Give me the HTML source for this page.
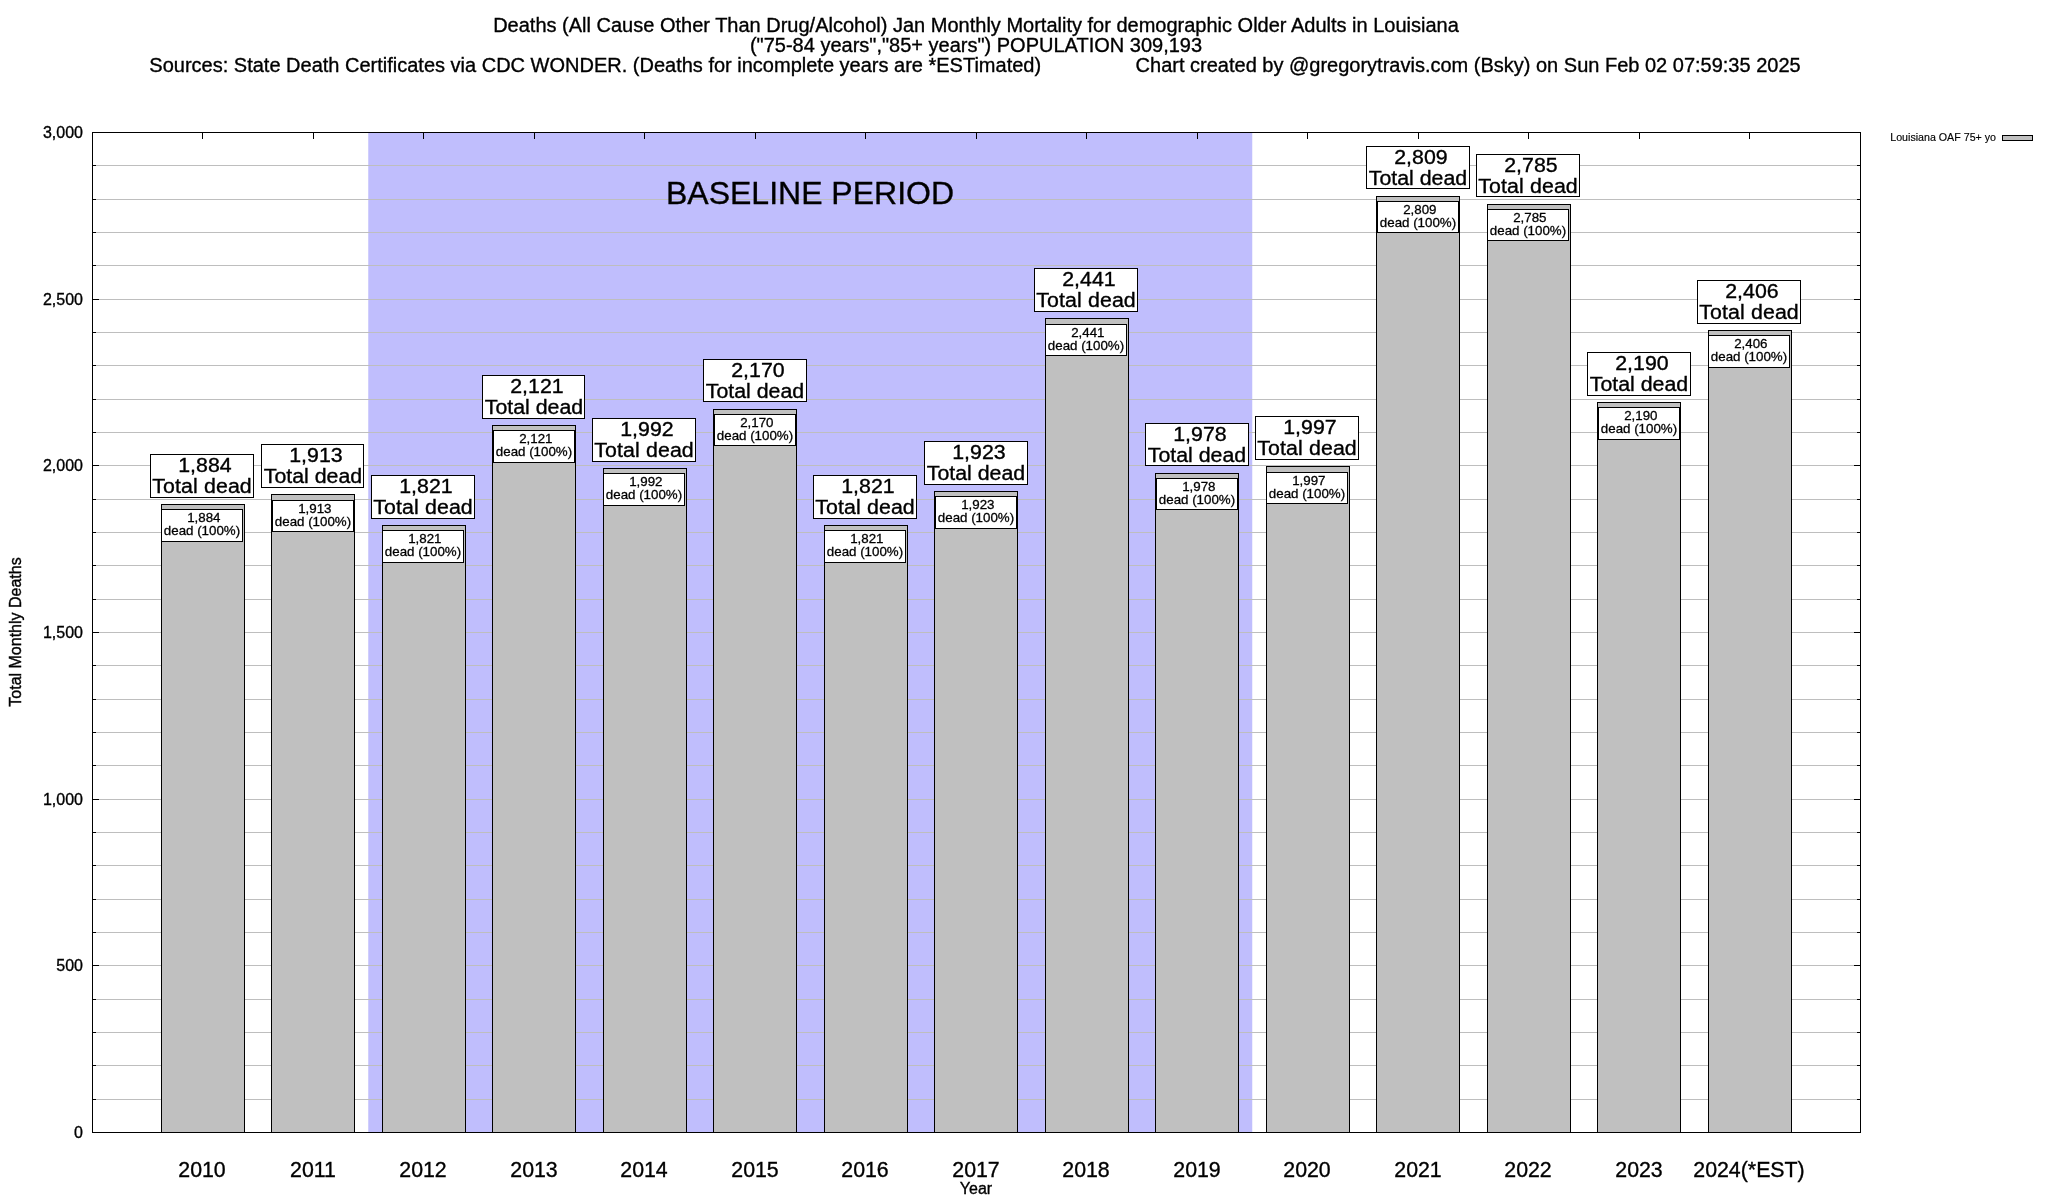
<!DOCTYPE html>
<html><head><meta charset="utf-8"><title>Louisiana Jan Monthly Mortality</title>
<style>
html,body{margin:0;padding:0;background:#fff;}
body{width:2048px;height:1200px;position:relative;overflow:hidden;font-family:"Liberation Sans",sans-serif;color:#000;}
div{position:absolute;box-sizing:border-box;white-space:pre;}
.t{line-height:1;text-align:center;will-change:transform;-webkit-text-stroke:0.35px #000;}
.g{height:1px;background:#bebebe;left:93px;width:1767px;}
.bar{background:#c0c0c0;border:1px solid #000;}
.box{background:#fff;border:1px solid #000;}
.k{background:#000;}
.f20{font-size:20px;height:20px;}
.f21{font-size:21.33px;height:22px;}
.fL{font-size:20px;height:20px;transform:scaleX(1.0667);transform-origin:50% 50%;}
.f16{font-size:16px;height:16px;}
.f13{font-size:13.33px;height:14px;-webkit-text-stroke:0.3px #000;}
.f32{font-size:32px;height:32px;}
.f10{font-size:10.67px;height:11px;-webkit-text-stroke:0.15px #000;}
</style></head><body>
<div class="t f20" style="left:-24px;top:15px;width:2000px;text-align:center;">Deaths (All Cause Other Than Drug/Alcohol) Jan Monthly Mortality for demographic Older Adults in Louisiana</div>
<div class="t f20" style="left:-24px;top:35px;width:2000px;text-align:center;">(&quot;75-84 years&quot;,&quot;85+ years&quot;) POPULATION 309,193</div>
<div class="t f20" style="left:-25px;top:55px;width:2000px;text-align:center;">Sources: State Death Certificates via CDC WONDER. (Deaths for incomplete years are *ESTimated)                 Chart created by @gregorytravis.com (Bsky) on Sun Feb 02 07:59:35 2025</div>
<div style="left:369px;top:132px;width:883px;height:1000px;background:#c0befd;"></div>
<div style="left:368px;top:132px;width:1px;height:1000px;background:#d0cefd;"></div>
<div style="left:1252px;top:132px;width:1px;height:1000px;background:#efeffe;"></div>
<div class="g" style="top:1099px;"></div>
<div class="g" style="top:1065px;"></div>
<div class="g" style="top:1032px;"></div>
<div class="g" style="top:999px;"></div>
<div class="g" style="top:965px;"></div>
<div class="g" style="top:932px;"></div>
<div class="g" style="top:899px;"></div>
<div class="g" style="top:865px;"></div>
<div class="g" style="top:832px;"></div>
<div class="g" style="top:799px;"></div>
<div class="g" style="top:765px;"></div>
<div class="g" style="top:732px;"></div>
<div class="g" style="top:699px;"></div>
<div class="g" style="top:665px;"></div>
<div class="g" style="top:632px;"></div>
<div class="g" style="top:599px;"></div>
<div class="g" style="top:565px;"></div>
<div class="g" style="top:532px;"></div>
<div class="g" style="top:499px;"></div>
<div class="g" style="top:465px;"></div>
<div class="g" style="top:432px;"></div>
<div class="g" style="top:399px;"></div>
<div class="g" style="top:365px;"></div>
<div class="g" style="top:332px;"></div>
<div class="g" style="top:299px;"></div>
<div class="g" style="top:265px;"></div>
<div class="g" style="top:232px;"></div>
<div class="g" style="top:199px;"></div>
<div class="g" style="top:165px;"></div>
<div class="bar" style="left:161px;top:504px;width:84px;height:629px;"></div>
<div class="bar" style="left:271px;top:494px;width:84px;height:639px;"></div>
<div class="bar" style="left:382px;top:525px;width:84px;height:608px;"></div>
<div class="bar" style="left:492px;top:425px;width:84px;height:708px;"></div>
<div class="bar" style="left:603px;top:468px;width:84px;height:665px;"></div>
<div class="bar" style="left:713px;top:409px;width:84px;height:724px;"></div>
<div class="bar" style="left:824px;top:525px;width:84px;height:608px;"></div>
<div class="bar" style="left:934px;top:491px;width:84px;height:642px;"></div>
<div class="bar" style="left:1045px;top:318px;width:84px;height:815px;"></div>
<div class="bar" style="left:1155px;top:473px;width:84px;height:660px;"></div>
<div class="bar" style="left:1266px;top:466px;width:84px;height:667px;"></div>
<div class="bar" style="left:1376px;top:196px;width:84px;height:937px;"></div>
<div class="bar" style="left:1487px;top:204px;width:84px;height:929px;"></div>
<div class="bar" style="left:1597px;top:402px;width:84px;height:731px;"></div>
<div class="bar" style="left:1708px;top:330px;width:84px;height:803px;"></div>
<div class="box" style="left:150px;top:454px;width:104px;height:44px;"></div>
<div class="t fL" style="left:122px;top:455px;width:160px;text-align:center;"> 1,884</div>
<div class="t fL" style="left:122px;top:476px;width:160px;text-align:center;letter-spacing:0.12px;">Total dead</div>
<div class="box" style="left:161px;top:509px;width:82px;height:33px;"></div>
<div class="t f13" style="left:142px;top:511px;width:120px;text-align:center;"> 1,884</div>
<div class="t f13" style="left:142px;top:524px;width:120px;text-align:center;">dead (100%)</div>
<div class="box" style="left:261px;top:444px;width:103px;height:44px;"></div>
<div class="t fL" style="left:233px;top:445px;width:160px;text-align:center;"> 1,913</div>
<div class="t fL" style="left:233px;top:466px;width:160px;text-align:center;">Total dead</div>
<div class="box" style="left:272px;top:500px;width:82px;height:32px;"></div>
<div class="t f13" style="left:253px;top:502px;width:120px;text-align:center;"> 1,913</div>
<div class="t f13" style="left:253px;top:515px;width:120px;text-align:center;">dead (100%)</div>
<div class="box" style="left:371px;top:475px;width:104px;height:44px;"></div>
<div class="t fL" style="left:343px;top:476px;width:160px;text-align:center;"> 1,821</div>
<div class="t fL" style="left:343px;top:497px;width:160px;text-align:center;letter-spacing:0.12px;">Total dead</div>
<div class="box" style="left:382px;top:530px;width:82px;height:33px;"></div>
<div class="t f13" style="left:363px;top:532px;width:120px;text-align:center;"> 1,821</div>
<div class="t f13" style="left:363px;top:545px;width:120px;text-align:center;">dead (100%)</div>
<div class="box" style="left:482px;top:375px;width:103px;height:44px;"></div>
<div class="t fL" style="left:454px;top:376px;width:160px;text-align:center;"> 2,121</div>
<div class="t fL" style="left:454px;top:397px;width:160px;text-align:center;">Total dead</div>
<div class="box" style="left:493px;top:430px;width:82px;height:33px;"></div>
<div class="t f13" style="left:474px;top:432px;width:120px;text-align:center;"> 2,121</div>
<div class="t f13" style="left:474px;top:445px;width:120px;text-align:center;">dead (100%)</div>
<div class="box" style="left:592px;top:418px;width:104px;height:44px;"></div>
<div class="t fL" style="left:564px;top:419px;width:160px;text-align:center;"> 1,992</div>
<div class="t fL" style="left:564px;top:440px;width:160px;text-align:center;letter-spacing:0.12px;">Total dead</div>
<div class="box" style="left:603px;top:473px;width:82px;height:33px;"></div>
<div class="t f13" style="left:584px;top:475px;width:120px;text-align:center;"> 1,992</div>
<div class="t f13" style="left:584px;top:488px;width:120px;text-align:center;">dead (100%)</div>
<div class="box" style="left:703px;top:359px;width:104px;height:43px;"></div>
<div class="t fL" style="left:675px;top:360px;width:160px;text-align:center;"> 2,170</div>
<div class="t fL" style="left:675px;top:381px;width:160px;text-align:center;">Total dead</div>
<div class="box" style="left:714px;top:414px;width:82px;height:32px;"></div>
<div class="t f13" style="left:695px;top:416px;width:120px;text-align:center;"> 2,170</div>
<div class="t f13" style="left:695px;top:429px;width:120px;text-align:center;">dead (100%)</div>
<div class="box" style="left:813px;top:475px;width:104px;height:44px;"></div>
<div class="t fL" style="left:785px;top:476px;width:160px;text-align:center;"> 1,821</div>
<div class="t fL" style="left:785px;top:497px;width:160px;text-align:center;letter-spacing:0.12px;">Total dead</div>
<div class="box" style="left:824px;top:530px;width:82px;height:33px;"></div>
<div class="t f13" style="left:805px;top:532px;width:120px;text-align:center;"> 1,821</div>
<div class="t f13" style="left:805px;top:545px;width:120px;text-align:center;">dead (100%)</div>
<div class="box" style="left:924px;top:441px;width:104px;height:44px;"></div>
<div class="t fL" style="left:896px;top:442px;width:160px;text-align:center;"> 1,923</div>
<div class="t fL" style="left:896px;top:463px;width:160px;text-align:center;">Total dead</div>
<div class="box" style="left:935px;top:496px;width:82px;height:33px;"></div>
<div class="t f13" style="left:916px;top:498px;width:120px;text-align:center;"> 1,923</div>
<div class="t f13" style="left:916px;top:511px;width:120px;text-align:center;">dead (100%)</div>
<div class="box" style="left:1034px;top:268px;width:104px;height:44px;"></div>
<div class="t fL" style="left:1006px;top:269px;width:160px;text-align:center;"> 2,441</div>
<div class="t fL" style="left:1006px;top:290px;width:160px;text-align:center;letter-spacing:0.12px;">Total dead</div>
<div class="box" style="left:1045px;top:324px;width:82px;height:32px;"></div>
<div class="t f13" style="left:1026px;top:326px;width:120px;text-align:center;"> 2,441</div>
<div class="t f13" style="left:1026px;top:339px;width:120px;text-align:center;">dead (100%)</div>
<div class="box" style="left:1145px;top:423px;width:104px;height:43px;"></div>
<div class="t fL" style="left:1117px;top:424px;width:160px;text-align:center;"> 1,978</div>
<div class="t fL" style="left:1117px;top:445px;width:160px;text-align:center;">Total dead</div>
<div class="box" style="left:1156px;top:478px;width:82px;height:32px;"></div>
<div class="t f13" style="left:1137px;top:480px;width:120px;text-align:center;"> 1,978</div>
<div class="t f13" style="left:1137px;top:493px;width:120px;text-align:center;">dead (100%)</div>
<div class="box" style="left:1255px;top:416px;width:104px;height:44px;"></div>
<div class="t fL" style="left:1227px;top:417px;width:160px;text-align:center;"> 1,997</div>
<div class="t fL" style="left:1227px;top:438px;width:160px;text-align:center;letter-spacing:0.12px;">Total dead</div>
<div class="box" style="left:1266px;top:472px;width:82px;height:32px;"></div>
<div class="t f13" style="left:1247px;top:474px;width:120px;text-align:center;"> 1,997</div>
<div class="t f13" style="left:1247px;top:487px;width:120px;text-align:center;">dead (100%)</div>
<div class="box" style="left:1366px;top:146px;width:104px;height:43px;"></div>
<div class="t fL" style="left:1338px;top:147px;width:160px;text-align:center;"> 2,809</div>
<div class="t fL" style="left:1338px;top:168px;width:160px;text-align:center;">Total dead</div>
<div class="box" style="left:1377px;top:201px;width:82px;height:32px;"></div>
<div class="t f13" style="left:1358px;top:203px;width:120px;text-align:center;"> 2,809</div>
<div class="t f13" style="left:1358px;top:216px;width:120px;text-align:center;">dead (100%)</div>
<div class="box" style="left:1476px;top:154px;width:104px;height:43px;"></div>
<div class="t fL" style="left:1448px;top:155px;width:160px;text-align:center;"> 2,785</div>
<div class="t fL" style="left:1448px;top:176px;width:160px;text-align:center;letter-spacing:0.12px;">Total dead</div>
<div class="box" style="left:1487px;top:209px;width:82px;height:32px;"></div>
<div class="t f13" style="left:1468px;top:211px;width:120px;text-align:center;"> 2,785</div>
<div class="t f13" style="left:1468px;top:224px;width:120px;text-align:center;">dead (100%)</div>
<div class="box" style="left:1587px;top:352px;width:104px;height:44px;"></div>
<div class="t fL" style="left:1559px;top:353px;width:160px;text-align:center;"> 2,190</div>
<div class="t fL" style="left:1559px;top:374px;width:160px;text-align:center;">Total dead</div>
<div class="box" style="left:1598px;top:407px;width:82px;height:33px;"></div>
<div class="t f13" style="left:1579px;top:409px;width:120px;text-align:center;"> 2,190</div>
<div class="t f13" style="left:1579px;top:422px;width:120px;text-align:center;">dead (100%)</div>
<div class="box" style="left:1697px;top:280px;width:104px;height:44px;"></div>
<div class="t fL" style="left:1669px;top:281px;width:160px;text-align:center;"> 2,406</div>
<div class="t fL" style="left:1669px;top:302px;width:160px;text-align:center;letter-spacing:0.12px;">Total dead</div>
<div class="box" style="left:1708px;top:335px;width:82px;height:33px;"></div>
<div class="t f13" style="left:1689px;top:337px;width:120px;text-align:center;"> 2,406</div>
<div class="t f13" style="left:1689px;top:350px;width:120px;text-align:center;">dead (100%)</div>
<div class="t f32" style="left:510px;top:177px;width:600px;text-align:center;">BASELINE PERIOD</div>
<div style="left:92px;top:132px;width:1769px;height:1001px;border:1px solid #000;"></div>
<div class="t f16" style="left:3px;top:1125px;width:80px;text-align:right;">0</div>
<div class="k" style="left:93px;top:1099px;width:3px;height:1px;"></div>
<div class="k" style="left:1857px;top:1099px;width:3px;height:1px;"></div>
<div class="k" style="left:93px;top:1065px;width:3px;height:1px;"></div>
<div class="k" style="left:1857px;top:1065px;width:3px;height:1px;"></div>
<div class="k" style="left:93px;top:1032px;width:3px;height:1px;"></div>
<div class="k" style="left:1857px;top:1032px;width:3px;height:1px;"></div>
<div class="k" style="left:93px;top:999px;width:3px;height:1px;"></div>
<div class="k" style="left:1857px;top:999px;width:3px;height:1px;"></div>
<div class="k" style="left:93px;top:965px;width:6px;height:1px;"></div>
<div class="k" style="left:1854px;top:965px;width:6px;height:1px;"></div>
<div class="t f16" style="left:3px;top:958px;width:80px;text-align:right;">500</div>
<div class="k" style="left:93px;top:932px;width:3px;height:1px;"></div>
<div class="k" style="left:1857px;top:932px;width:3px;height:1px;"></div>
<div class="k" style="left:93px;top:899px;width:3px;height:1px;"></div>
<div class="k" style="left:1857px;top:899px;width:3px;height:1px;"></div>
<div class="k" style="left:93px;top:865px;width:3px;height:1px;"></div>
<div class="k" style="left:1857px;top:865px;width:3px;height:1px;"></div>
<div class="k" style="left:93px;top:832px;width:3px;height:1px;"></div>
<div class="k" style="left:1857px;top:832px;width:3px;height:1px;"></div>
<div class="k" style="left:93px;top:799px;width:6px;height:1px;"></div>
<div class="k" style="left:1854px;top:799px;width:6px;height:1px;"></div>
<div class="t f16" style="left:3px;top:792px;width:80px;text-align:right;">1,000</div>
<div class="k" style="left:93px;top:765px;width:3px;height:1px;"></div>
<div class="k" style="left:1857px;top:765px;width:3px;height:1px;"></div>
<div class="k" style="left:93px;top:732px;width:3px;height:1px;"></div>
<div class="k" style="left:1857px;top:732px;width:3px;height:1px;"></div>
<div class="k" style="left:93px;top:699px;width:3px;height:1px;"></div>
<div class="k" style="left:1857px;top:699px;width:3px;height:1px;"></div>
<div class="k" style="left:93px;top:665px;width:3px;height:1px;"></div>
<div class="k" style="left:1857px;top:665px;width:3px;height:1px;"></div>
<div class="k" style="left:93px;top:632px;width:6px;height:1px;"></div>
<div class="k" style="left:1854px;top:632px;width:6px;height:1px;"></div>
<div class="t f16" style="left:3px;top:625px;width:80px;text-align:right;">1,500</div>
<div class="k" style="left:93px;top:599px;width:3px;height:1px;"></div>
<div class="k" style="left:1857px;top:599px;width:3px;height:1px;"></div>
<div class="k" style="left:93px;top:565px;width:3px;height:1px;"></div>
<div class="k" style="left:1857px;top:565px;width:3px;height:1px;"></div>
<div class="k" style="left:93px;top:532px;width:3px;height:1px;"></div>
<div class="k" style="left:1857px;top:532px;width:3px;height:1px;"></div>
<div class="k" style="left:93px;top:499px;width:3px;height:1px;"></div>
<div class="k" style="left:1857px;top:499px;width:3px;height:1px;"></div>
<div class="k" style="left:93px;top:465px;width:6px;height:1px;"></div>
<div class="k" style="left:1854px;top:465px;width:6px;height:1px;"></div>
<div class="t f16" style="left:3px;top:458px;width:80px;text-align:right;">2,000</div>
<div class="k" style="left:93px;top:432px;width:3px;height:1px;"></div>
<div class="k" style="left:1857px;top:432px;width:3px;height:1px;"></div>
<div class="k" style="left:93px;top:399px;width:3px;height:1px;"></div>
<div class="k" style="left:1857px;top:399px;width:3px;height:1px;"></div>
<div class="k" style="left:93px;top:365px;width:3px;height:1px;"></div>
<div class="k" style="left:1857px;top:365px;width:3px;height:1px;"></div>
<div class="k" style="left:93px;top:332px;width:3px;height:1px;"></div>
<div class="k" style="left:1857px;top:332px;width:3px;height:1px;"></div>
<div class="k" style="left:93px;top:299px;width:6px;height:1px;"></div>
<div class="k" style="left:1854px;top:299px;width:6px;height:1px;"></div>
<div class="t f16" style="left:3px;top:292px;width:80px;text-align:right;">2,500</div>
<div class="k" style="left:93px;top:265px;width:3px;height:1px;"></div>
<div class="k" style="left:1857px;top:265px;width:3px;height:1px;"></div>
<div class="k" style="left:93px;top:232px;width:3px;height:1px;"></div>
<div class="k" style="left:1857px;top:232px;width:3px;height:1px;"></div>
<div class="k" style="left:93px;top:199px;width:3px;height:1px;"></div>
<div class="k" style="left:1857px;top:199px;width:3px;height:1px;"></div>
<div class="k" style="left:93px;top:165px;width:3px;height:1px;"></div>
<div class="k" style="left:1857px;top:165px;width:3px;height:1px;"></div>
<div class="t f16" style="left:3px;top:125px;width:80px;text-align:right;">3,000</div>
<div class="k" style="left:202px;top:133px;width:1px;height:6px;"></div>
<div class="t f21" style="left:102px;top:1160px;width:200px;text-align:center;">2010</div>
<div class="k" style="left:313px;top:133px;width:1px;height:6px;"></div>
<div class="t f21" style="left:213px;top:1160px;width:200px;text-align:center;">2011</div>
<div class="k" style="left:423px;top:133px;width:1px;height:6px;"></div>
<div class="t f21" style="left:323px;top:1160px;width:200px;text-align:center;">2012</div>
<div class="k" style="left:534px;top:133px;width:1px;height:6px;"></div>
<div class="t f21" style="left:434px;top:1160px;width:200px;text-align:center;">2013</div>
<div class="k" style="left:644px;top:133px;width:1px;height:6px;"></div>
<div class="t f21" style="left:544px;top:1160px;width:200px;text-align:center;">2014</div>
<div class="k" style="left:755px;top:133px;width:1px;height:6px;"></div>
<div class="t f21" style="left:655px;top:1160px;width:200px;text-align:center;">2015</div>
<div class="k" style="left:865px;top:133px;width:1px;height:6px;"></div>
<div class="t f21" style="left:765px;top:1160px;width:200px;text-align:center;">2016</div>
<div class="k" style="left:976px;top:133px;width:1px;height:6px;"></div>
<div class="t f21" style="left:876px;top:1160px;width:200px;text-align:center;">2017</div>
<div class="k" style="left:1086px;top:133px;width:1px;height:6px;"></div>
<div class="t f21" style="left:986px;top:1160px;width:200px;text-align:center;">2018</div>
<div class="k" style="left:1197px;top:133px;width:1px;height:6px;"></div>
<div class="t f21" style="left:1097px;top:1160px;width:200px;text-align:center;">2019</div>
<div class="k" style="left:1307px;top:133px;width:1px;height:6px;"></div>
<div class="t f21" style="left:1207px;top:1160px;width:200px;text-align:center;">2020</div>
<div class="k" style="left:1418px;top:133px;width:1px;height:6px;"></div>
<div class="t f21" style="left:1318px;top:1160px;width:200px;text-align:center;">2021</div>
<div class="k" style="left:1528px;top:133px;width:1px;height:6px;"></div>
<div class="t f21" style="left:1428px;top:1160px;width:200px;text-align:center;">2022</div>
<div class="k" style="left:1639px;top:133px;width:1px;height:6px;"></div>
<div class="t f21" style="left:1539px;top:1160px;width:200px;text-align:center;">2023</div>
<div class="k" style="left:1749px;top:133px;width:1px;height:6px;"></div>
<div class="t f21" style="left:1649px;top:1160px;width:200px;text-align:center;">2024(*EST)</div>
<div class="t f16" style="left:926px;top:1181px;width:100px;text-align:center;">Year</div>
<div class="t f16" style="left:-134.5px;top:623.5px;width:300px;transform:rotate(-90deg);transform-origin:50% 50%;">Total Monthly Deaths</div>
<div class="t f10" style="left:1796px;top:132px;width:200px;text-align:right;">Louisiana OAF 75+ yo</div>
<div class="bar" style="left:2002px;top:135px;width:31px;height:6px;"></div>
</body></html>
